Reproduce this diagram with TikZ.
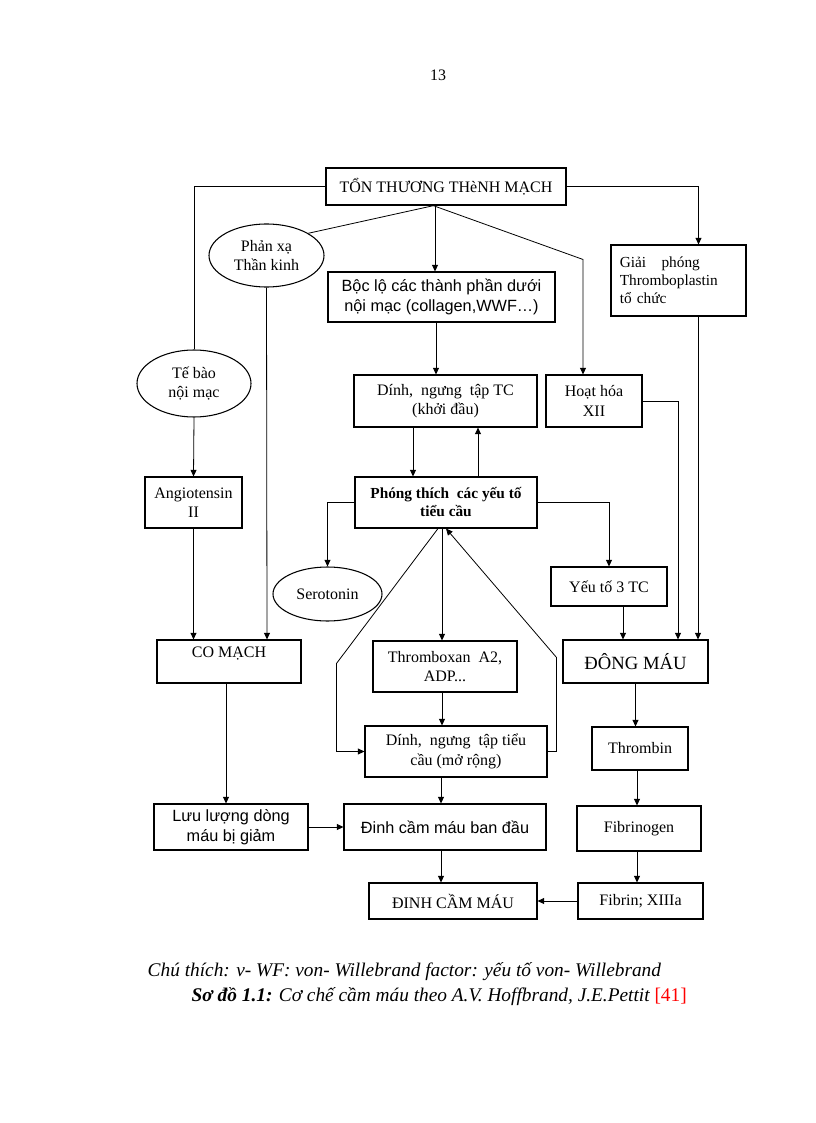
\documentclass[tikz,border=0pt]{standalone}
\usepackage{fontspec}
\setmainfont{Liberation Serif}
\setsansfont{Liberation Sans}
\usetikzlibrary{shapes.geometric,calc,arrows.meta}

\tikzset{
  bx/.style 2 args={draw, line width=.8pt, inner sep=0pt, align=center,
    minimum width=#1*0.75pt, minimum height=#2*0.75pt},
  ov/.style 2 args={ellipse, draw, line width=.8pt, inner sep=0pt, align=center,
    minimum width=#1*0.75pt, minimum height=#2*0.75pt},
  ln/.style={line width=.6pt},
  ar/.style={line width=.6pt, -{Triangle[length=5pt,width=4.5pt]}},
  f11/.style={font=\fontsize{11.5}{13.5}\selectfont},
  f12/.style={font=\fontsize{12}{14.5}\selectfont},
  s12/.style={font=\sffamily\fontsize{12.2}{15}\selectfont},
}

\begin{document}
\begin{tikzpicture}[x=.75pt, y=-.75pt]
\useasboundingbox (0,0) rectangle (816,1123);
\node[f12] (trang) at (438,75) {13}; % page number

% top row
\node[bx={240}{37}, f12] (tonThuong) at (446,186.5) {TỔN THƯƠNG THèNH MẠCH};
\node[ov={115}{63}, f12] (phanXa) at (266.5,255.5) {Phản xạ\\Thần kinh};
\node[bx={227}{50}, s12] (bocLo) at (441.5,297) {Bộc lộ các thành phần dưới\\nội mạc (collagen,WWF…)};
\node[bx={135}{71}, f11, text width=88pt, align=left] (giaiPhong) at (678.5,280.5) {Giải\quad phóng\\Thromboplastin\\tổ chức};

% second row
\node[ov={114}{67}, f12] (teBao) at (194,383.5) {Tế bào\\nội mạc};
\node[bx={183}{52}, f12] (dinhTC) at (445.5,401) {Dính,~ ngưng~ tập TC\\(khởi đầu)};
\node[bx={96}{52}, f12] (hoatHoa) at (594,401) {Hoạt hóa\\XII};

\node[bx={97}{51}, f12] (angio) at (193.5,502.5) {Angiotensin\\II};
\node[bx={182}{51}, font=\bfseries\fontsize{11.5}{13.5}\selectfont] (phongThich) at (446,502.5) {Phóng thích~ các yếu tố\\tiểu cầu};
\node[ov={109}{54}, f12] (serotonin) at (327.5,594) {Serotonin};
\node[bx={116}{39}, f12] (yeuTo) at (609,586.5) {Yếu tố 3 TC};

% middle
\node[bx={144}{43}, f12] (coMach) at (229,661.5) {CO MẠCH\\\mbox{}};
\node[bx={144}{51}, f12] (thromboxan) at (445,666.5) {Thromboxan~ A2,\\ADP...};
\node[bx={145}{43}, font=\fontsize{14}{16}\selectfont] (dongMau) at (635.5,661.5) {ĐÔNG MÁU};
\node[bx={182}{51}, f12] (dinhMR) at (456,751.5) {Dính,~ ngưng~ tập tiểu\\cầu (mở rộng)};
\node[bx={96}{43}, f12] (thrombin) at (640,748.5) {Thrombin};

% bottom
\node[bx={154}{46}, s12] (luuLuong) at (231,827) {Lưu lượng dòng\\máu bị giảm};
\node[bx={202}{46}, s12] (dinhBanDau) at (445,827) {Đinh cầm máu ban đầu};
\node[bx={124}{45}, f12] (fibrinogen) at (639,828.5) {Fibrinogen};
\node[bx={168}{36}, f12] (dinhCamMau) at (453,901) {ĐINH CẦM MÁU};
\node[bx={125}{36}, f12] (fibrin) at (640.5,901) {Fibrin; XIIIa};

% connectors from the top box
\draw[ln] (tonThuong.west) -| (teBao.north);
\draw[ar] (tonThuong.east) -| ($(giaiPhong.north)+(20,0)$);
\draw[ln] ($(tonThuong.south)+(-12,0)$) -- (phanXa.28);
\draw[ar] ($(tonThuong.south)+(-11,0)$) coordinate (t) -- (t |- bocLo.north);
\draw[ar] ($(tonThuong.south)+(-13,0)$) -- ($(hoatHoa.north)+(-11,-115)$) -- ($(hoatHoa.north)+(-11,0)$);

% left column
\draw[ar] (phanXa.south) -- ($(coMach.north)+(38,0)$);
\draw[ar] (teBao.south) -- (angio.north);
\draw[ar] (angio.south) -- (angio.south |- coMach.north);
\draw[ar] ($(coMach.south)+(-3,0)$) coordinate (t) -- (t |- luuLuong.north);
\draw[ar] (luuLuong.east) -- (dinhBanDau.west);

% platelet column
\draw[ar] ($(bocLo.south)+(-5.5,0)$) coordinate (t) -- (t |- dinhTC.north);
\draw[ar] ($(dinhTC.south)+(-32.5,0)$) coordinate (t) -- (t |- phongThich.north);
\draw[ar] ($(phongThich.north)+(32,0)$) coordinate (t) -- (t |- dinhTC.south);
\draw[ar] (phongThich.west) -| (serotonin.north);
\draw[ar] (phongThich.east) -| (yeuTo.north);
\draw[ar] ($(phongThich.south)+(-4,0)$) coordinate (t) -- (t |- thromboxan.north);
\draw[ar] ($(phongThich.south)+(-8,0)$) -- ($(dinhMR.west)+(-28,-88)$) -- ($(dinhMR.west)+(-28,0)$) -- (dinhMR.west); % feedback left
\draw[ar] (dinhMR.east) -- ++(9,0) -- ++(0,-94) -- (phongThich.south); % feedback right
\draw[ar] ($(thromboxan.south)+(-3,0)$) coordinate (t) -- (t |- dinhMR.north);
\draw[ar] ($(dinhMR.south)+(-15,0)$) coordinate (t) -- (t |- dinhBanDau.north);
\draw[ar] ($(dinhBanDau.south)+(-4,0)$) coordinate (t) -- (t |- dinhCamMau.north);

% coagulation column
\draw[ar] (hoatHoa.east) -| ($(dongMau.north)+(42.5,0)$);
\draw[ar] ($(giaiPhong.south)+(19.5,0)$) coordinate (t) -- (t |- dongMau.north);
\draw[ar] ($(yeuTo.south)+(14,0)$) coordinate (t) -- (t |- dongMau.north);
\draw[ar] (dongMau.south) -- (dongMau.south |- thrombin.north);
\draw[ar] ($(thrombin.south)+(-3,0)$) coordinate (t) -- (t |- fibrinogen.north);
\draw[ar] ($(fibrinogen.south)+(-2,0)$) coordinate (t) -- (t |- fibrin.north);
\draw[ar] (fibrin.west) -- (dinhCamMau.east);

% caption
\node[anchor=west, font=\itshape\fontsize{14.5}{17}\selectfont] (chuThich) at (143,972) {Chú thích: v- WF: von- Willebrand factor: yếu tố von- Willebrand};
\node[anchor=west, font=\itshape\fontsize{14.5}{17}\selectfont] (soDo) at (187,997) {\textbf{Sơ đồ 1.1:} Cơ chế cầm máu theo A.V. Hoffbrand, J.E.Pettit \textcolor{red}{\upshape[41]}};
\end{tikzpicture}
\end{document}
